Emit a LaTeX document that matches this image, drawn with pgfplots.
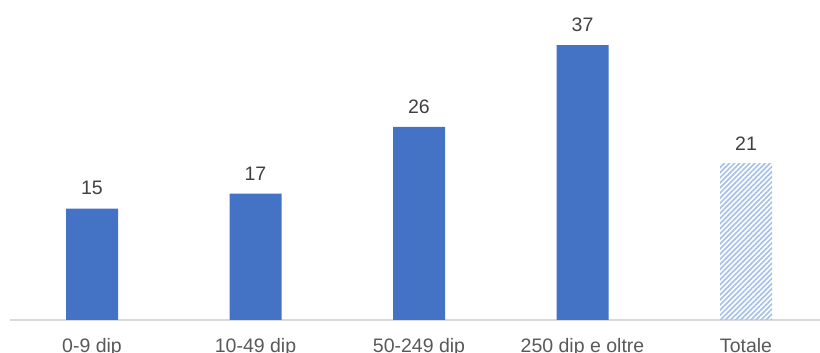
\documentclass[border=0pt]{standalone}
\usepackage{fontspec}
\setmainfont{Liberation Sans}
\usepackage{pgfplots}
\pgfplotsset{compat=1.18}
\usetikzlibrary{patterns.meta}
\definecolor{barblue}{RGB}{68,114,196}
\definecolor{hatchblue}{RGB}{167,194,234}
\definecolor{labelgray}{RGB}{64,64,64}
\definecolor{ticktext}{RGB}{89,89,89}
\definecolor{axisgray}{RGB}{217,217,217}
\begin{document}
\begin{tikzpicture}
\useasboundingbox (0,0) rectangle (820pt,353pt);
\clip (0,0) rectangle (820pt,353pt);
\begin{axis}[
  at={(10.25pt,33pt)}, anchor=south west,
  scale only axis, width=817.5pt, height=297.2pt,
  xmin=-0.5, xmax=4.5, ymin=0, ymax=40,
  /pgf/number format/assume math mode=true,
  axis x line=bottom, axis y line=none,
  x axis line style={-, draw=axisgray, line width=1.5pt},
  xtick={0,1,2,3,4},
  xticklabels={0-9 dip,10-49 dip,50-249 dip,250 dip e oltre,Totale},
  xtick style={draw=none},
  xticklabel style={font=\fontsize{19.5}{22}\selectfont, text=ticktext, yshift=-11pt},
  ytick=\empty,
  ybar, bar width=52pt, bar shift=0pt,
  nodes near coords,
  every node near coord/.append style={font=\fontsize{19.5}{22}\selectfont, text=labelgray, yshift=10pt},
  clip=false,
]
\addplot[fill=barblue, draw=none] coordinates {(0,15) (1,17) (2,26) (3,37)};
\addplot[draw=none, pattern={Lines[angle=45,distance=3.6pt,line width=1.7pt]}, pattern color=hatchblue] coordinates {(4,21)};
\end{axis}
\end{tikzpicture}
\end{document}
